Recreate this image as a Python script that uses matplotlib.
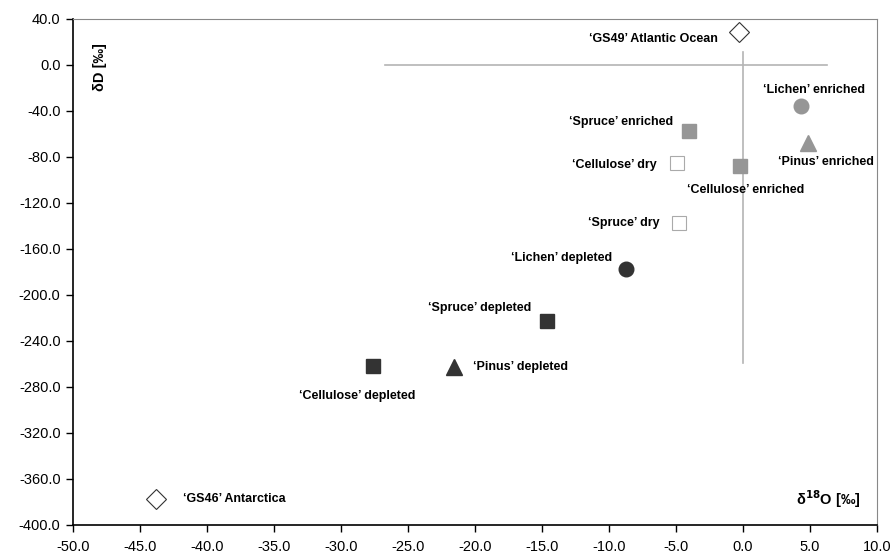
import matplotlib.pyplot as plt

plt.rcParams['font.family'] = ['Liberation Sans', 'DejaVu Sans']

# samples: (d18O, dD)
dark_sq_x = [-14.6, -27.6]          # Spruce depleted, Cellulose depleted
dark_sq_y = [-222.6, -261.7]
dark_tri_x = [-21.6]                # Pinus depleted
dark_tri_y = [-262.6]
dark_circ_x = [-8.7]                # Lichen depleted
dark_circ_y = [-177.0]

grey_sq_x = [-4.0, -0.2]            # Spruce enriched, Cellulose enriched
grey_sq_y = [-57.4, -87.8]
grey_tri_x = [4.85]                 # Pinus enriched
grey_tri_y = [-67.8]
grey_circ_x = [4.3]                 # Lichen enriched
grey_circ_y = [-35.6]

open_sq_x = [-4.9, -4.8]            # Cellulose dry, Spruce dry
open_sq_y = [-85.0, -137.0]

std_x = [-0.3, -43.8]               # GS49, GS46
std_y = [28.7, -377.0]

# reference cross
hline_x = [-26.7, 6.3]
hline_y = [0, 0]
vline_x = [0, 0]
vline_y = [11, -259]

# labels: text, x, y (data coords), ha
labels = [
    ("\u2018GS49\u2019 Atlantic Ocean", -1.9, 22.5, 'right'),
    ("\u2018Lichen\u2019 enriched", 1.5, -21.5, 'left'),
    ("\u2018Spruce\u2019 enriched", -5.2, -50.0, 'right'),
    ("\u2018Cellulose\u2019 dry", -6.4, -87.0, 'right'),
    ("\u2018Pinus\u2019 enriched", 2.6, -84.0, 'left'),
    ("\u2018Cellulose\u2019 enriched", -4.2, -108.5, 'left'),
    ("\u2018Spruce\u2019 dry", -6.2, -137.0, 'right'),
    ("\u2018Lichen\u2019 depleted", -9.8, -167.5, 'right'),
    ("\u2018Spruce\u2019 depleted", -15.8, -211.0, 'right'),
    ("\u2018Pinus\u2019 depleted", -20.15, -263.0, 'left'),
    ("\u2018Cellulose\u2019 depleted", -33.1, -287.5, 'left'),
    ("\u2018GS46\u2019 Antarctica", -41.8, -377.0, 'left'),
]

xticks = [-50 + 5 * i for i in range(13)]
yticks = [-400 + 40 * i for i in range(12)]

fig = plt.figure(figsize=(8.96, 5.57), dpi=100)
ax = fig.add_axes([73 / 896, 1 - 525 / 557, 804 / 896, 506 / 557])

dark = '#333333'
grey = '#969696'

ax.plot(hline_x, hline_y, color='#b4b4b4', lw=1.2, zorder=1)
ax.plot(vline_x, vline_y, color='#b4b4b4', lw=1.2, zorder=1)

ax.plot(dark_sq_x, dark_sq_y, 's', ms=10.5, color=dark, ls='none')
ax.plot(dark_tri_x, dark_tri_y, '^', ms=11.5, color=dark, ls='none')
ax.plot(dark_circ_x, dark_circ_y, 'o', ms=10.5, color=dark, ls='none')
ax.plot(grey_sq_x, grey_sq_y, 's', ms=10.5, color=grey, ls='none')
ax.plot(grey_tri_x, grey_tri_y, '^', ms=11.5, color=grey, ls='none')
ax.plot(grey_circ_x, grey_circ_y, 'o', ms=10.5, color=grey, ls='none')
ax.plot(open_sq_x, open_sq_y, 's', ms=10, mfc='white', mec='#aaaaaa', mew=0.8, ls='none')
ax.plot(std_x, std_y, 'D', ms=10, mfc='white', mec='#333333', mew=0.8, ls='none')

for txt, x, y, ha in labels:
    ax.text(x, y, txt, ha=ha, va='center', fontsize=9, fontweight='bold')

ax.text(0.034, 0.905, '\u03b4D [\u2030]', transform=ax.transAxes, rotation=90,
        ha='center', va='center', fontsize=10.5, fontweight='bold')
ax.text(0.98, 0.052, '\u03b4$^{\\mathbf{18}}$O [\u2030]', transform=ax.transAxes,
        ha='right', va='center', fontsize=10.5, fontweight='bold')

ax.set_xlim(-50, 10)
ax.set_ylim(-400, 40)
ax.set_xticks(xticks)
ax.set_yticks(yticks)
ax.set_xticklabels([f'{v:.1f}' for v in xticks])
ax.set_yticklabels([f'{v:.1f}' for v in yticks])
ax.tick_params(direction='out', length=5, width=1, labelsize=10.5, pad=4)
ax.tick_params(axis='x', pad=6)

ax.spines['top'].set_color('#888888')
ax.spines['right'].set_color('#888888')
ax.spines['left'].set_linewidth(1.2)
ax.spines['bottom'].set_linewidth(1.2)

fig.savefig('out.png', dpi=100)
